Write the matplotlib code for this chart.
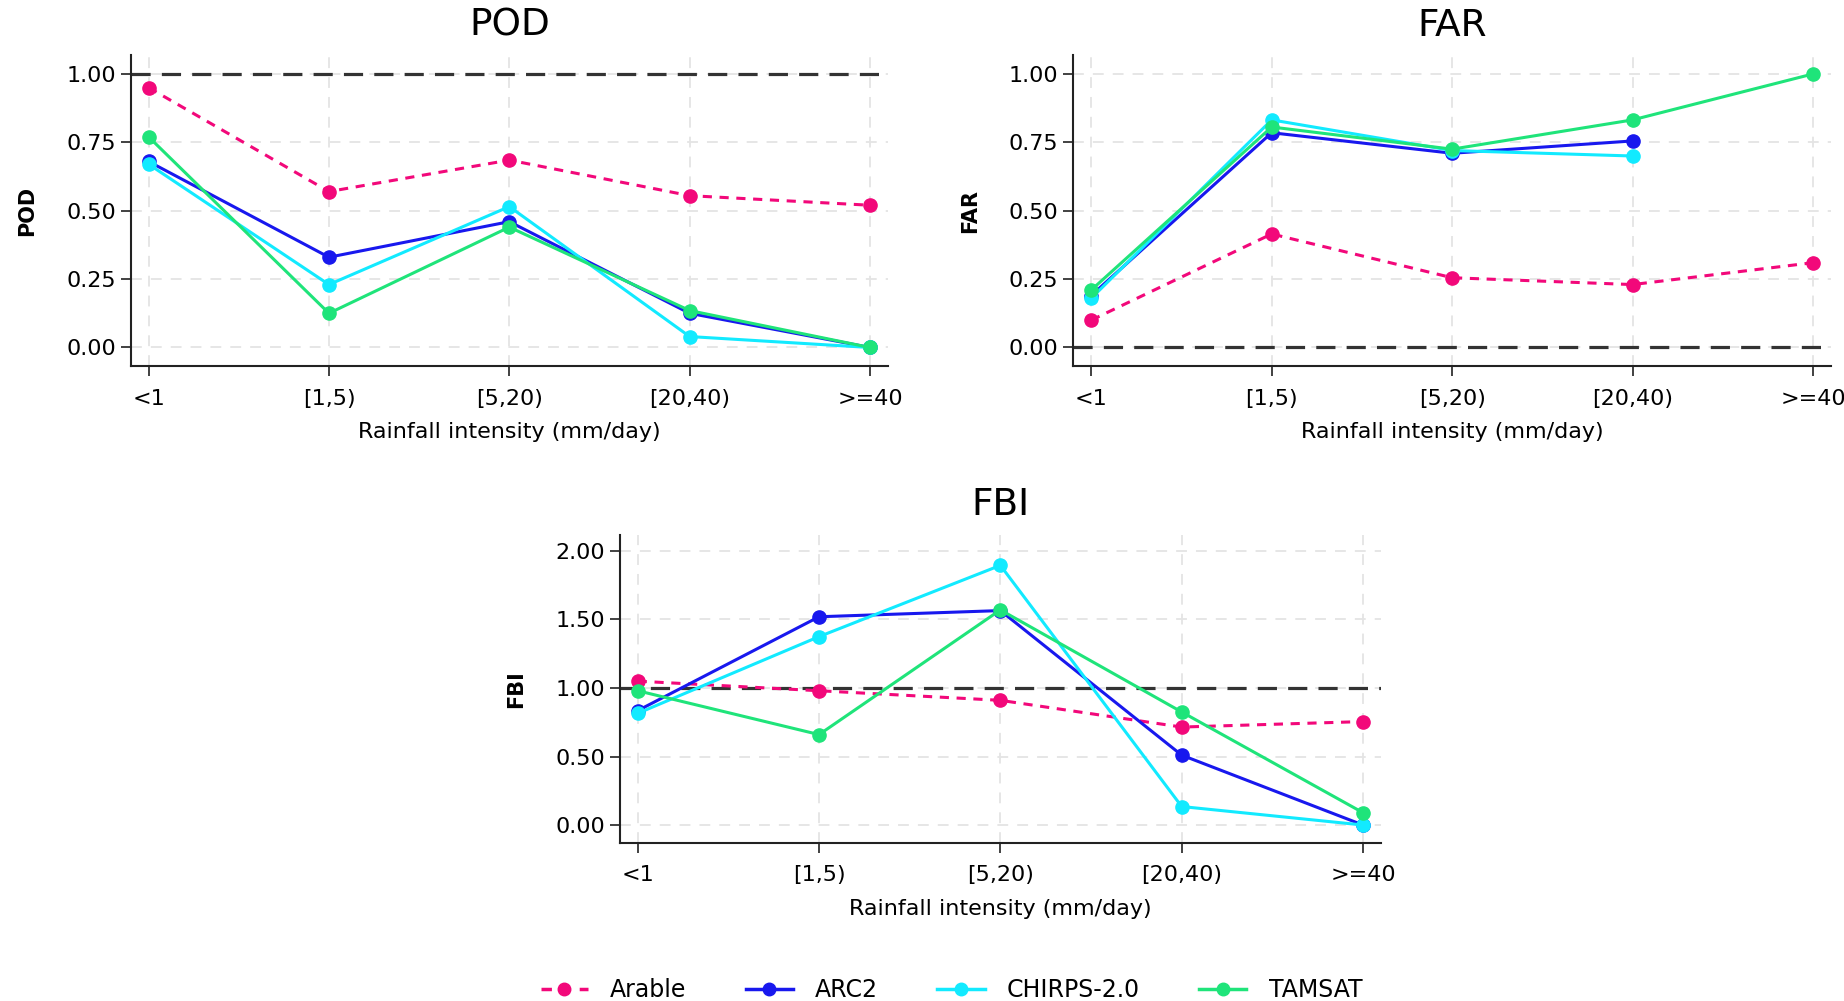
#Imports packages and dependencies
import numpy as np
import matplotlib
matplotlib.use('Agg')
import matplotlib.pyplot as plt
from matplotlib.lines import Line2D

plt.rcParams['font.family'] = ['DejaVu Sans']

#Categories and series values
categories = ['<1', '[1,5)', '[5,20)', '[20,40)', '>=40']
products = ['Arable', 'ARC2', 'CHIRPS-2.0', 'TAMSAT']

pod_arable = [0.95, 0.57, 0.685, 0.555, 0.52]
pod_arc2 = [0.68, 0.33, 0.46, 0.125, 0.0]
pod_chirps = [0.67, 0.23, 0.515, 0.04, 0.0]
pod_tamsat = [0.77, 0.125, 0.44, 0.135, 0.0]

far_arable = [0.10, 0.415, 0.255, 0.23, 0.31]
far_arc2 = [0.19, 0.785, 0.71, 0.755, np.nan]
far_chirps = [0.18, 0.832, 0.72, 0.70, np.nan]
far_tamsat = [0.21, 0.806, 0.725, 0.832, 1.0]

fbi_arable = [1.05, 0.98, 0.91, 0.715, 0.755]
fbi_arc2 = [0.835, 1.52, 1.565, 0.51, 0.0]
fbi_chirps = [0.815, 1.375, 1.895, 0.135, 0.0]
fbi_tamsat = [0.98, 0.66, 1.57, 0.825, 0.09]

#Styles
colors = ['#f2087a', '#1818ee', '#12eaff', '#1fe47a']
styles = [(0, (3, 2.5)), '-', '-', '-']

def draw_panel(ax, series, title, ylabel, ref, ylim, yticks):
  x = np.arange(len(categories))
  ax.grid(True, color='#e4e4e4', linestyle=(0, (6, 5)), linewidth=1.3)
  ax.set_axisbelow(True)
  ax.axhline(ref, color='#333333', linestyle=(0, (6, 3.5)), linewidth=2.3, zorder=2)
  for vals, c, ls in zip(series, colors, styles):
    ax.plot(x, vals, color=c, linestyle=ls, linewidth=2.2, marker='o',
            markersize=9.5, zorder=3)
  ax.set_xlim(-0.1, 4.1)
  ax.set_ylim(*ylim)
  ax.set_xticks(x)
  ax.set_xticklabels(categories)
  ax.set_yticks(yticks)
  ax.set_yticklabels(['{:.2f}'.format(t) for t in yticks])
  ax.set_title(title, fontsize=27, pad=14)
  ax.set_ylabel(ylabel, fontsize=15, fontweight='bold', labelpad=21)
  ax.set_xlabel('Rainfall intensity (mm/day)', fontsize=16, labelpad=10)
  for s in ['top', 'right']:
    ax.spines[s].set_visible(False)
  for s in ['left', 'bottom']:
    ax.spines[s].set_linewidth(1.5)
    ax.spines[s].set_color('#222222')
  ax.tick_params(axis='both', labelsize=16, length=7, width=1.3, color='#333333')
  ax.tick_params(axis='x', pad=9)

fig = plt.figure(figsize=(18.44, 10.01), dpi=100)
ax1 = fig.add_axes([0.0708, 0.634, 0.4108, 0.311])
ax2 = fig.add_axes([0.582, 0.634, 0.411, 0.311])
ax3 = fig.add_axes([0.336, 0.158, 0.413, 0.308])

draw_panel(ax1, [pod_arable, pod_arc2, pod_chirps, pod_tamsat], 'POD', 'POD', 1.0,
           (-0.069, 1.069), [0, 0.25, 0.5, 0.75, 1.0])
draw_panel(ax2, [far_arable, far_arc2, far_chirps, far_tamsat], 'FAR', 'FAR', 0.0,
           (-0.069, 1.069), [0, 0.25, 0.5, 0.75, 1.0])
draw_panel(ax3, [fbi_arable, fbi_arc2, fbi_chirps, fbi_tamsat], 'FBI', 'FBI', 1.0,
           (-0.13, 2.12), [0, 0.5, 1.0, 1.5, 2.0])

handles = [Line2D([0], [0], color=c, linestyle=ls, linewidth=2.5, marker='o', markersize=9)
           for c, ls in zip(colors, styles)]
fig.legend(handles, products, loc='center', bbox_to_anchor=(0.516, 0.011), ncol=4,
           frameon=False, fontsize=17, handlelength=2.0, columnspacing=2.5, handletextpad=0.95)

fig.savefig('out.png', dpi=100)
